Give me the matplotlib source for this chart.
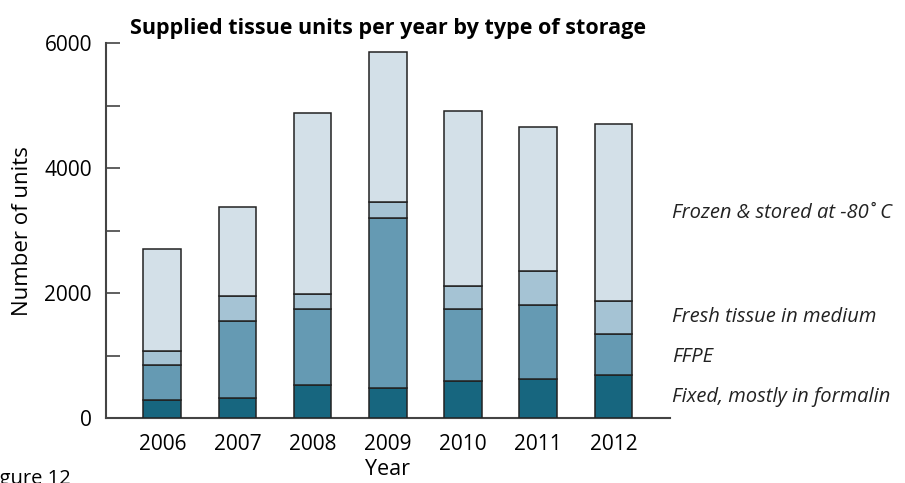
import numpy as np
import matplotlib.pyplot as plt

# stacked segments
years = ['2006', '2007', '2008', '2009', '2010', '2011', '2012']
fixed = [288, 330, 538, 490, 592, 634, 698]
ffpe = [570, 1233, 1207, 2717, 1163, 1185, 647]
fresh = [215, 400, 240, 256, 363, 544, 538]
frozen = [1633, 1415, 2908, 2397, 2802, 2296, 2824]

series = [fixed, ffpe, fresh, frozen]
labels = ['Fixed, mostly in formalin', 'FFPE', 'Fresh tissue in medium',
          'Frozen & stored at -80\u02da C']
colors = ['#17667f', '#659ab3', '#a5c3d4', '#d3e0e8']
label_y = [341, 981, 1622, 3287]

plt.rcParams['font.family'] = ['Open Sans', 'DejaVu Sans']

fig = plt.figure(figsize=(9.05, 4.83), dpi=100)
ax = fig.add_axes([0.117, 0.134, 0.623, 0.776])

x = np.arange(len(years))
bottom = np.zeros(len(years))
for vals, c in zip(series, colors):
    ax.bar(x, vals, 0.5, bottom=bottom, color=c, edgecolor='#222222', linewidth=1.1, zorder=3)
    bottom += np.array(vals)

ax.set_xlim(-0.75, 6.75)
ax.set_ylim(0, 6000)
ax.set_xticks(x)
ax.set_xticklabels(years)
ax.set_yticks(range(0, 6001, 1000))
ax.set_yticklabels(['0', '', '2000', '', '4000', '', '6000'])
ax.tick_params(axis='y', direction='in', length=10, width=1.2, color='#444444',
               pad=10, labelsize=15)
ax.tick_params(axis='x', length=0, pad=11, labelsize=15)

for s in ['top', 'right']:
    ax.spines[s].set_visible(False)
for s in ['left', 'bottom']:
    ax.spines[s].set_color('#444444')
    ax.spines[s].set_linewidth(1.5)

ax.set_ylabel('Number of units', fontsize=16, labelpad=8)
ax.set_xlabel('Year', fontsize=15.5, labelpad=3)
ax.set_title('Supplied tissue units per year by type of storage',
             fontsize=15.5, fontweight='bold', pad=7)

for lab, yy in zip(labels, label_y):
    ax.text(6.78, yy, lab, fontsize=14.5, style='italic', va='center',
            ha='left', color='#222222', clip_on=False)

fig.text(-0.018, 0.03, 'Figure 12', fontsize=14.5, va='top', ha='left')

fig.savefig('out.png', dpi=100)
